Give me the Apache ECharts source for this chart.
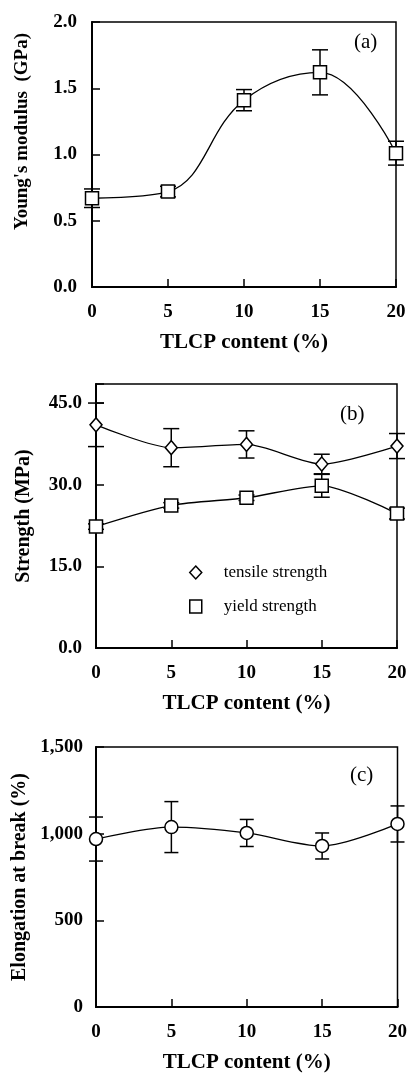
<!DOCTYPE html>
<html>
<head>
<meta charset="utf-8">
<script src="https://cdn.jsdelivr.net/npm/echarts@6/dist/echarts.min.js"></script>
<style>html,body{margin:0;padding:0;background:#fff;}#c{width:410px;height:1081px;}</style>
</head>
<body>
<div id="c"></div>
<script>
// ---- data ----
const tlcp = [0, 5, 10, 15, 20];
const xTicks = [0, 5, 10, 15, 20];
const modulus = [0.67, 0.72, 1.41, 1.62, 1.01];
const modulusErr = [0.07, 0.04, 0.08, 0.17, 0.09];
const tensile = [41.0, 36.8, 37.4, 33.8, 37.1];
const tensileErr = [4.0, 3.5, 2.5, 1.8, 2.3];
const yieldS = [22.3, 26.2, 27.6, 29.8, 24.7];
const yieldErr = [0.5, 0.5, 0.5, 2.1, 1.0];
const elong = [969, 1038, 1004, 929, 1056];
const elongErr = [127, 147, 78, 75, 104];
const ticksA = [0.0, 0.5, 1.0, 1.5, 2.0];
const ticksB = [0.0, 15.0, 30.0, 45.0];
const ticksC = [0, 500, 1000, 1500];

const SERIF = "'Liberation Serif','Times New Roman',serif";
const pairs = (vals, errs) => tlcp.map((x, i) => errs ? [x, vals[i], errs[i]] : [x, vals[i]]);

function errSeries(idx, vals, errs, cap) {
  return {
    type: 'custom', xAxisIndex: idx, yAxisIndex: idx, z: 1, clip: false,
    data: pairs(vals, errs),
    renderItem: function (params, api) {
      const x = api.value(0), y = api.value(1), e = api.value(2);
      const t = api.coord([x, y + e]);
      const b = api.coord([x, y - e]);
      const st = { stroke: '#000', lineWidth: 1.5 };
      return {
        type: 'group',
        children: [
          { type: 'line', shape: { x1: t[0], y1: t[1], x2: b[0], y2: b[1] }, style: st },
          { type: 'line', shape: { x1: t[0] - cap, y1: t[1], x2: t[0] + cap, y2: t[1] }, style: st },
          { type: 'line', shape: { x1: b[0] - cap, y1: b[1], x2: b[0] + cap, y2: b[1] }, style: st }
        ]
      };
    }
  };
}

function lineSeries(idx, name, vals, symbol, size, smooth) {
  return {
    type: 'line', name: name, xAxisIndex: idx, yAxisIndex: idx, z: 3,
    data: pairs(vals), smooth: smooth, symbol: symbol, symbolSize: size,
    showAllSymbol: true,
    lineStyle: { color: '#000', width: 1.3 },
    itemStyle: { color: '#fff', borderColor: '#000', borderWidth: 1.5 },
    emphasis: { disabled: true }, animation: false
  };
}

function xAxis(idx) {
  return {
    gridIndex: idx, type: 'value', min: xTicks[0], max: xTicks[xTicks.length - 1], interval: xTicks[1] - xTicks[0],
    name: 'TLCP content (%)', nameLocation: 'middle', nameGap: 45,
    nameTextStyle: { fontFamily: SERIF, fontWeight: 'bold', fontSize: 21, color: '#000' },
    axisLine: { lineStyle: { color: '#000', width: 2 } },
    axisTick: { inside: true, length: 8, lineStyle: { color: '#000', width: 1.5 } },
    axisLabel: { fontFamily: SERIF, fontWeight: 'bold', fontSize: 19, color: '#000', margin: 16 },
    splitLine: { show: false }
  };
}

function yAxis(idx, ticks, name, nameGap, nameSize, fmt, max, pad, margin) {
  return {
    gridIndex: idx, type: 'value', min: ticks[0], max: max, interval: ticks[1] - ticks[0],
    name: name, nameLocation: 'middle', nameGap: nameGap,
    nameTextStyle: { fontFamily: SERIF, fontWeight: 'bold', fontSize: nameSize, color: '#000', padding: pad },
    axisLine: { lineStyle: { color: '#000', width: 2 } },
    axisTick: { inside: true, length: 8, lineStyle: { color: '#000', width: 1.5 } },
    axisLabel: { fontFamily: SERIF, fontWeight: 'bold', fontSize: 19, color: '#000', margin: margin, formatter: fmt },
    splitLine: { show: false }
  };
}

const fmtA = v => v.toFixed(1);
const fmtB = v => (ticksB.indexOf(v) >= 0 ? v.toFixed(1) : '');
const fmtC = v => (ticksC.indexOf(v) >= 0 ? v.toLocaleString('en-US') : '');

const gridStyle = { show: true, borderColor: '#000', borderWidth: 1.5, backgroundColor: 'transparent' };

const chart = echarts.init(document.getElementById('c'), null, { renderer: 'canvas' });
chart.setOption({
  animation: false,
  backgroundColor: '#fff',
  title: [
    { text: '(a)', left: 349, top: 27, textStyle: { fontFamily: SERIF, fontWeight: 'normal', fontSize: 21, color: '#000' } },
    { text: '(b)', left: 335, top: 399, textStyle: { fontFamily: SERIF, fontWeight: 'normal', fontSize: 21, color: '#000' } },
    { text: '(c)', left: 345, top: 760, textStyle: { fontFamily: SERIF, fontWeight: 'normal', fontSize: 21, color: '#000' } }
  ],
  legend: {
    orient: 'vertical', left: 189, top: 564, padding: 0, itemWidth: 12, itemHeight: 13, itemGap: 17,
    selectedMode: false,
    textStyle: { fontFamily: SERIF, fontSize: 17, color: '#000', padding: [0, 0, 0, 17], lineHeight: 16 },
    data: [
      { name: 'tensile strength', icon: 'diamond', itemStyle: { color: '#fff', borderColor: '#000', borderWidth: 1.5 } },
      { name: 'yield strength', icon: 'rect', itemStyle: { color: '#fff', borderColor: '#000', borderWidth: 1.5 } }
    ]
  },
  grid: [
    Object.assign({ left: 92, right: 14, top: 22, height: 265 }, gridStyle),
    Object.assign({ left: 96, right: 13, top: 384, height: 264 }, gridStyle),
    Object.assign({ left: 96, right: 12, top: 747, height: 260 }, gridStyle)
  ],
  xAxis: [xAxis(0), xAxis(1), xAxis(2)],
  yAxis: [
    yAxis(0, ticksA, "Young's modulus  (GPa)", 60, 19, fmtA, ticksA[ticksA.length - 1], [0, 0, 0, 46], 15),
    yAxis(1, ticksB, 'Strength (MPa)', 62, 20, fmtB, 48.5, 0, 14),
    yAxis(2, ticksC, 'Elongation at break (%)', 64, 20, fmtC, ticksC[ticksC.length - 1], 0, 13)
  ],
  series: [
    errSeries(0, modulus, modulusErr, 8),
    lineSeries(0, "Young's modulus", modulus, 'rect', 13, 0.4),
    errSeries(1, tensile, tensileErr, 8),
    errSeries(1, yieldS, yieldErr, 8),
    lineSeries(1, 'tensile strength', tensile, 'diamond', [12, 14], 0.25),
    lineSeries(1, 'yield strength', yieldS, 'rect', 13, 0.25),
    errSeries(2, elong, elongErr, 7),
    lineSeries(2, 'elongation at break', elong, 'circle', 13, 0.3)
  ]
});
</script>
</body>
</html>
